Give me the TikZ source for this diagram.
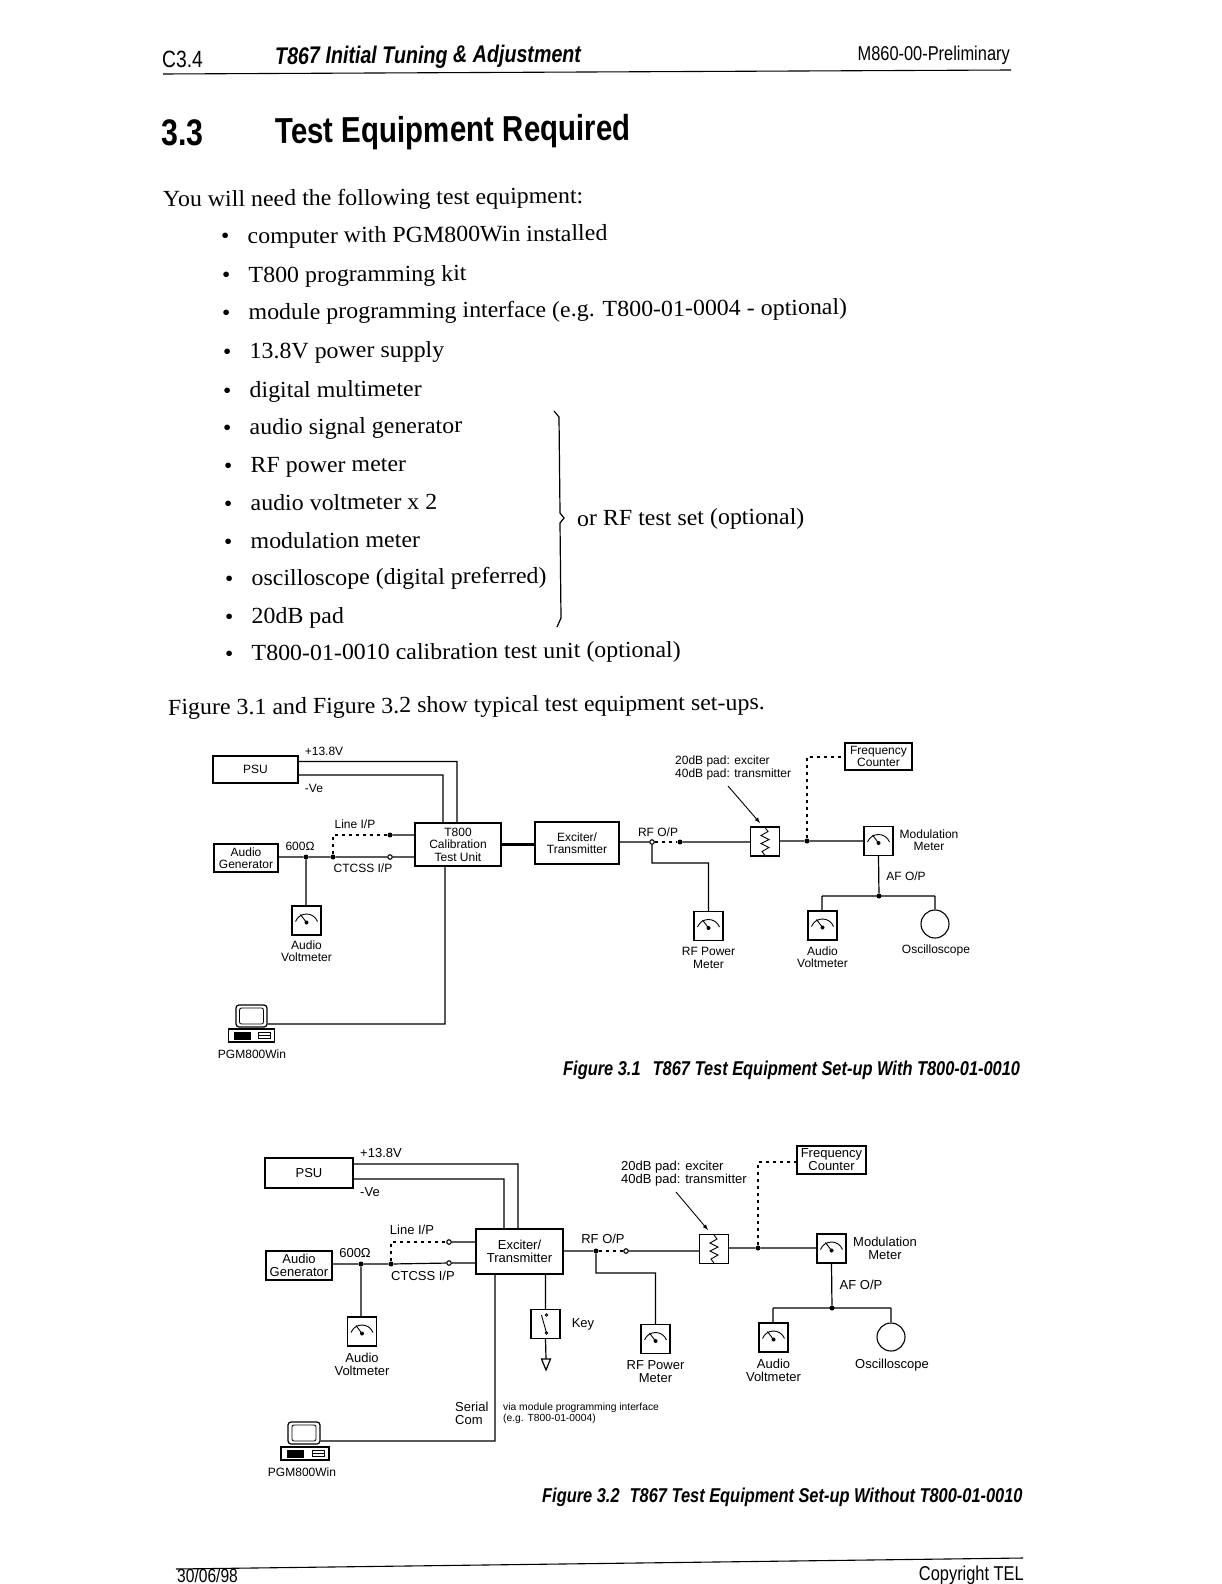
\documentclass[tikz,border=0pt]{standalone}
\usepackage{fontspec}
\setmainfont{Liberation Serif}
\setsansfont{Liberation Sans}
\newfontfamily\condfont{Liberation Sans}[FakeStretch=0.82]
\newfontfamily\bodyfont{Liberation Serif}[FakeStretch=1.04]
\usetikzlibrary{positioning}
\newcommand{\bul}{\makebox[26.5pt][l]{\textbullet}}

\begin{document}
\begin{tikzpicture}[x=1pt,y=-1pt,>=latex]
        \tikzset{block/.style={draw, rectangle, align=center, inner sep=0pt, line width=1.1pt, font=\sffamily\fontsize{12}{12.5}\selectfont},
        wire/.style={draw, line width=1.2pt},
        dashwire/.style={draw, line width=1.1pt, dash pattern=on 3.5pt off 3.5pt},
        dot/.style={circle, fill, inner sep=0pt, minimum size=5pt},
        odot/.style={circle, draw, fill=white, line width=1.1pt, inner sep=0pt, minimum size=4.5pt},
        figlabel/.style={align=center, inner sep=0pt, font=\sffamily\fontsize{12}{12.5}\selectfont},
        biglabel/.style={align=center, inner sep=0pt, font=\sffamily\fontsize{13}{13}\selectfont},
        bodytext/.style={anchor=base west, inner sep=0pt, rotate=.5, font=\bodyfont\fontsize{23}{23}\selectfont},
        captext/.style={anchor=west, inner sep=0pt, font=\condfont\bfseries\itshape\fontsize{20}{20}\selectfont},
        meterbox/.style={draw, rectangle, line width=1.1pt, minimum size=29pt, inner sep=0pt, path picture={
            \draw[line width=.9pt, shift={(path picture bounding box.center)}] (-11,1) .. controls (-7,-9) and (7,-9) .. (11,1);
            \draw[line width=.9pt, shift={(path picture bounding box.center)}] (-6,-6) -- (0,2);
            \fill[shift={(path picture bounding box.center)}] (0,2) circle (2);
        }},
        padbox/.style={draw, rectangle, line width=1.1pt, minimum size=29pt, inner sep=0pt, path picture={
            \draw[line width=.9pt, shift={(path picture bounding box.center)}] (0,-14) -- (3,-10) -- (-4,-6) -- (4,-2) -- (-4,2) -- (4,6) -- (-3,10) -- (0,14);
        }},
        keybox/.style={draw, rectangle, line width=1.1pt, minimum size=29pt, inner sep=0pt, path picture={
            \draw[line width=.9pt, shift={(path picture bounding box.center)}] (-4,-9) -- (1,9);
            \draw[line width=.8pt, shift={(path picture bounding box.center)}] (1,-9) circle (1.3) (1,9) circle (1.3);
        }},
        monbox/.style={draw, rectangle, rounded corners=3pt, line width=1.2pt, inner sep=0pt, path picture={
            \draw[line width=.8pt, rounded corners=2pt, shift={(path picture bounding box.center)}] (-12,-8) rectangle (12,8);
        }},
        pcbox/.style={draw, rectangle, line width=1.4pt, inner sep=0pt, minimum width=46pt, minimum height=13pt, path picture={
            \fill[shift={(path picture bounding box.center)}] (-18,-4) rectangle (-1,4);
            \draw[line width=.9pt, shift={(path picture bounding box.center)}] (7,-3) rectangle (19,3) (7,0) -- (19,0);
        }},
        }
        \useasboundingbox (0,0) rectangle (1221,1584);

%% page head
        \node [anchor=west, inner sep=0pt, font=\condfont\fontsize{23.5}{24}\selectfont] (secno) at (162,59) {C3.4};
        \node [captext, rotate=.4, font=\condfont\bfseries\itshape\fontsize{24}{24}\selectfont] (headline) at (275,58) {T867 Initial Tuning \& Adjustment};
        \node [anchor=east, inner sep=0pt, font=\condfont\fontsize{20}{20}\selectfont] (docno) at (1010,55) {M860-00-Preliminary};
        \coordinate (ruleL) at (163,74);
        \coordinate (ruleR) at (1011,70);
        \draw [line width=1.1pt] (ruleL) -- (ruleR);
        \node [anchor=west, inner sep=0pt, font=\condfont\bfseries\fontsize{37}{37}\selectfont] (titleno) at (161,133) {3.3};
        \node [anchor=west, inner sep=0pt, rotate=.5, font=\condfont\bfseries\fontsize{36}{36}\selectfont] (title) at (275,134) {Test Equipment Required};

%% list
        \node [bodytext] (intro) at (163,207) {You will need the following test equipment:};
        \node [bodytext] (li1) at (221,244) {\bul computer with PGM800Win installed};
        \node [bodytext] (li2) at (222,283) {\bul T800 programming kit};
        \node [bodytext] (li3) at (222,320) {\bul module programming interface (e.g. T800-01-0004 - optional)};
        \node [bodytext] (li4) at (223,359) {\bul 13.8V power supply};
        \node [bodytext] (li5) at (223,398) {\bul digital multimeter};
        \node [bodytext] (li6) at (223,435) {\bul audio signal generator};
        \node [bodytext] (li7) at (224,473) {\bul RF power meter};
        \node [bodytext] (li8) at (224,511) {\bul audio voltmeter x 2};
        \node [bodytext] (li9) at (224,549) {\bul modulation meter};
        \node [bodytext] (li10) at (225,586) {\bul oscilloscope (digital preferred)};
        \node [bodytext] (li11) at (225,624) {\bul 20dB pad};
        \node [bodytext] (li12) at (225,661) {\bul T800-01-0010 calibration test unit (optional)};
        \node [bodytext] (orset) at (577,526) {or RF test set (optional)};
        \node [bodytext] (figtext) at (168,715) {Figure 3.1 and Figure 3.2 show typical test equipment set-ups.};
        \coordinate (brA) at (554,411);
        \coordinate (brB) at (559,417);
        \coordinate (brC) at (560,513);
        \coordinate (brD) at (564,518);
        \coordinate (brE) at (560,523);
        \coordinate (brF) at (561,618);
        \coordinate (brG) at (557,627);
        \draw [line width=1.2pt] (brA) -- (brB) -- (brC) -- (brD) -- (brE) -- (brF) -- (brG);

%% figure 3.1
        \node [block, minimum width=85pt, minimum height=27pt] (psuA) at (255.5,769.5) {PSU};
        \node [block, minimum width=86pt, minimum height=43pt, line width=1.4pt] (calA) at (458,844.5) {T800\\Calibration\\Test Unit};
        \node [block, minimum width=84pt, minimum height=42pt] (exA) at (577,843) {Exciter/\\Transmitter};
        \node [block, minimum width=64pt, minimum height=28pt] (genA) at (246,858) {Audio\\Generator};
        \node [meterbox] (avmA) at (306.5,920.5) {};
        \node [monbox, minimum width=31pt, minimum height=22pt] (monA) at (251.5,1016) {};
        \node [pcbox] (pcA) at (251.5,1035.5) {};
        \node [dot] (tapA) at (306,857) {};
        \node [dot] (splitA) at (333,857) {};
        \node [odot] (ctcA) at (390,857) {};
        \node [dot] (lineA) at (390,835) {};
        \node [odot] (rfA) at (652,842) {};
        \node [dot] (rfendA) at (680,842) {};
        \node [padbox] (padA) at (765,841.5) {};
        \node [dot] (fcA) at (807,841) {};
        \node [meterbox] (modA) at (878.5,841) {};
        \node [block, minimum width=67pt, minimum height=27pt, line width=1.3pt] (freqA) at (878.5,756.5) {Frequency\\Counter};
        \node [meterbox] (rfmA) at (708.5,926) {};
        \node [meterbox] (avrA) at (822.5,925.5) {};
        \node [dot] (afA) at (879,896) {};
        \node [circle, draw, line width=1.1pt, minimum size=28pt, inner sep=0pt] (oscA) at (935,924) {};

        \node [figlabel] (p138A) at (324,751) {+13.8V};
        \node [figlabel] (nveA) at (314,788) {-Ve};
        \node [figlabel] (lipA) at (355,824) {Line I/P};
        \node [figlabel] (ohmA) at (300,846) {600Ω};
        \node [figlabel] (ctA) at (363,868) {CTCSS I/P};
        \node [figlabel, below=5pt of avmA] (avmtA) {Audio\\Voltmeter};
        \node [figlabel] (pgmA) at (252,1054) {PGM800Win};
        \node [figlabel] (rflA) at (658,832) {RF O/P};
        \node [figlabel, below=6pt of rfmA] (rfmtA) {RF Power\\Meter};
        \node [figlabel, below=6pt of avrA] (avrtA) {Audio\\Voltmeter};
        \node [figlabel] (osctA) at (936,950) {Oscilloscope};
        \node [figlabel] (modtA) at (929,840) {Modulation\\Meter};
        \node [figlabel] (aftA) at (906,876) {AF O/P};
        \node [figlabel, anchor=west, align=left] (padtA) at (675,768) {20dB pad: exciter\\40dB pad: transmitter};
        \node [captext] (capA) at (563,1070) {Figure 3.1\hspace{12pt}T867 Test Equipment Set-up With T800-01-0010};

        \coordinate (posA) at (298,761.5);
        \coordinate (negA) at (298,775);
        \coordinate (inposA) at (457,823);
        \coordinate (innegA) at (443,823);
        \coordinate (serA) at (445,1024);
        \coordinate (rfturnA) at (652,863);
        \coordinate (afLA) at (822,896);
        \coordinate (afRA) at (935,896);
        \coordinate (fcupA) at (807,757);
        \coordinate (arrA) at (728,786);
        \coordinate (arrEndA) at (760,823);

%% paths
        \path[wire] (posA) -| (inposA)
                    (negA) -| (innegA)
                    (genA.east |- tapA) -- (tapA) -- (splitA) -- (ctcA) -- (ctcA -| calA.west)
                    (lineA) -- (lineA -| calA.west)
                    (tapA) -- (avmA.north -| tapA)
                    (calA.south -| serA) -- (serA) -- (serA -| monA.east)
                    (exA.east |- rfA) -- (rfA)
                    (rfendA) -- (padA.west |- rfendA)
                    (rfA) -- (rfturnA) -| (rfmA.north)
                    (padA.east |- fcA) -- (fcA) -- (modA.west |- fcA)
                    (modA.south) -- (afA)
                    (afLA) -- (afRA)
                    (afLA) -- (avrA.north -| afLA)
                    (afRA) -- (oscA.north);
        \path[dashwire] (splitA) -- (splitA |- lineA) -- (lineA)
                    (rfA) -- (rfendA)
                    (fcA) -- (fcupA) -- (freqA.west |- fcupA);
        \draw [line width=3pt] (calA.east) -- (exA.west |- calA.east);
        \draw [->, line width=.9pt] (arrA) -- (arrEndA);

%% figure 3.2
        \node [block, minimum width=88pt, minimum height=30pt, biglabel] (psuB) at (309,1173) {PSU};
        \node [block, minimum width=87pt, minimum height=45pt, biglabel] (exB) at (519.5,1251.5) {Exciter/\\Transmitter};
        \node [block, minimum width=66pt, minimum height=29pt, biglabel, line width=1.3pt] (genB) at (299,1265.5) {Audio\\Generator};
        \node [meterbox] (avmB) at (362,1331.5) {};
        \node [monbox, minimum width=32pt, minimum height=22pt] (monB) at (304,1433) {};
        \node [pcbox, minimum width=48pt] (pcB) at (305,1453.5) {};
        \node [dot] (tapB) at (361,1264) {};
        \node [dot] (splitB) at (391,1264) {};
        \node [odot] (ctcB) at (449,1263) {};
        \node [odot] (lineB) at (449,1242) {};
        \node [keybox] (keyB) at (545.5,1324) {};
        \coordinate (gndB) at (546,1359);
        \node [dot] (rfB) at (596,1251) {};
        \node [odot] (rfendB) at (626,1251) {};
        \node [padbox] (padB) at (714,1249) {};
        \node [dot] (fcB) at (758,1248) {};
        \node [meterbox] (modB) at (831.5,1248.5) {};
        \node [block, minimum width=69pt, minimum height=28pt, biglabel] (freqB) at (831.5,1160) {Frequency\\Counter};
        \node [meterbox] (rfmB) at (655.5,1339) {};
        \node [meterbox] (avrB) at (773.5,1337.5) {};
        \node [dot] (afB) at (832,1308) {};
        \node [circle, draw, line width=1.1pt, minimum size=28pt, inner sep=0pt] (oscB) at (891,1337) {};

        \node [biglabel] (p138B) at (381,1153) {+13.8V};
        \node [biglabel] (nveB) at (370,1192) {-Ve};
        \node [biglabel] (lipB) at (412,1230) {Line I/P};
        \node [biglabel] (ohmB) at (355,1253) {600Ω};
        \node [biglabel] (ctB) at (423,1276) {CTCSS I/P};
        \node [biglabel, below=6pt of avmB] (avmtB) {Audio\\Voltmeter};
        \node [figlabel] (pgmB) at (302,1472) {PGM800Win};
        \node [biglabel] (rflB) at (603,1239) {RF O/P};
        \node [biglabel, below=6pt of rfmB] (rfmtB) {RF Power\\Meter};
        \node [biglabel, below=6pt of avrB] (avrtB) {Audio\\Voltmeter};
        \node [biglabel] (osctB) at (892,1365) {Oscilloscope};
        \node [biglabel] (modtB) at (885,1248.5) {Modulation\\Meter};
        \node [biglabel] (aftB) at (861,1285) {AF O/P};
        \node [biglabel, right=11pt of keyB] (keytB) {Key};
        \node [biglabel, anchor=west, align=left] (padtB) at (621,1173.5) {20dB pad: exciter\\40dB pad: transmitter};
        \node [biglabel, anchor=west, align=left] (sertB) at (455,1413.5) {Serial\\Com};
        \node [anchor=west, align=left, inner sep=0pt, font=\sffamily\fontsize{10.3}{11.5}\selectfont] (viaB) at (503,1413.5) {via module programming interface\\(e.g. T800-01-0004)};
        \node [captext] (capB) at (542,1497) {Figure 3.2\hspace{10pt}T867 Test Equipment Set-up Without T800-01-0010};

        \coordinate (posB) at (353,1164);
        \coordinate (negB) at (353,1179);
        \coordinate (inposB) at (518,1229);
        \coordinate (innegB) at (504,1229);
        \coordinate (serB) at (495,1441);
        \coordinate (rfturnB) at (596,1273);
        \coordinate (afLB) at (773,1308);
        \coordinate (afRB) at (891,1308);
        \coordinate (fcupB) at (758,1162);
        \coordinate (arrB) at (676,1192);
        \coordinate (arrEndB) at (708,1230);
        \coordinate (gndLB) at (541.5,1359);
        \coordinate (gndRB) at (550.5,1359);
        \coordinate (gndTB) at (546,1370);

        \path[wire] (posB) -| (inposB)
                    (negB) -| (innegB)
                    (genB.east |- tapB) -- (tapB) -- (splitB) -- (ctcB) -- (ctcB -| exB.west)
                    (lineB) -- (lineB -| exB.west)
                    (tapB) -- (avmB.north -| tapB)
                    (exB.south -| serB) -- (serB) -- (serB -| monB.east)
                    (exB.south -| keyB) -- (keyB.north)
                    (keyB.south) -- (gndB)
                    (gndLB) -- (gndRB) -- (gndTB) -- cycle
                    (exB.east |- rfB) -- (rfB)
                    (rfendB) -- (padB.west |- rfendB)
                    (rfB) -- (rfturnB) -| (rfmB.north)
                    (padB.east |- fcB) -- (fcB) -- (modB.west |- fcB)
                    (modB.south) -- (afB)
                    (afLB) -- (afRB)
                    (afLB) -- (avrB.north -| afLB)
                    (afRB) -- (oscB.north);
        \path[dashwire] (splitB) -- (splitB |- lineB) -- (lineB)
                    (rfB) -- (rfendB)
                    (fcB) -- (fcupB) -- (freqB.west |- fcupB);
        \draw [->, line width=.9pt] (arrB) -- (arrEndB);

%% page foot
        \coordinate (footL) at (176,1569);
        \coordinate (footR) at (1023,1558);
        \draw [line width=1.1pt] (footL) -- (footR);
        \node [anchor=west, inner sep=0pt, font=\condfont\fontsize{19}{19}\selectfont] (datefoot) at (177,1576) {30/06/98};
        \node [anchor=east, inner sep=0pt, font=\condfont\fontsize{20}{20}\selectfont] (copyfoot) at (1024,1575) {Copyright TEL};
    \end{tikzpicture}
\end{document}
